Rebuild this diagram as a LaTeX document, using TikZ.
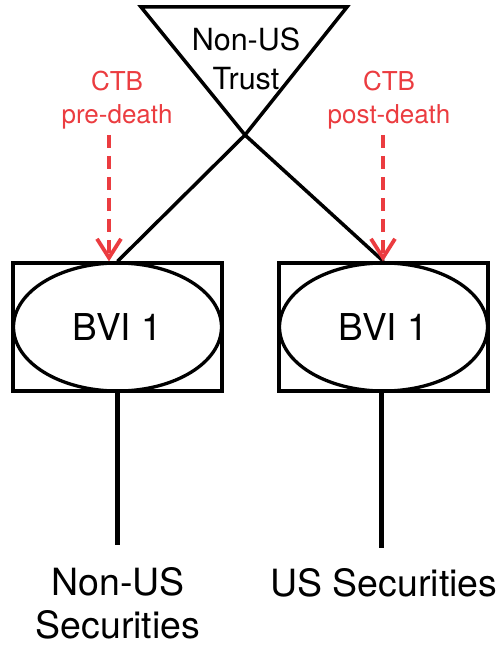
\documentclass[tikz,border=0pt]{standalone}
\usepackage{fontspec}
\setmainfont{TeX Gyre Heros}
\usetikzlibrary{shapes.geometric,arrows.meta}
\definecolor{ctbred}{RGB}{235,60,64}

\tikzset{
  holder/.style={draw, line width=3.3pt, minimum width=209pt, minimum height=128pt, inner sep=0pt},
  company/.style={draw, ellipse, line width=3.3pt, minimum width=208pt, minimum height=128pt, inner sep=0pt, font=\fontsize{37}{40}\selectfont},
  link/.style={line width=3.5pt},
  stem/.style={line width=4.8pt},
  ctb/.style={draw=ctbred, line width=3.8pt, dash pattern=on 13pt off 8pt, -{Straight Barb[length=19pt,width=24pt]}},
  ctblabel/.style={text=ctbred, align=center, inner sep=0pt, anchor=north, font=\fontsize{26}{33}\selectfont},
  asset/.style={align=center, inner sep=0pt, anchor=north, text depth=0pt, font=\fontsize{37.5}{43}\selectfont},
}

\begin{document}
\begin{tikzpicture}[x=1pt, y=-1pt]
  \useasboundingbox (0,0) rectangle (501,647);

  % trust
  \coordinate (tl) at (141,7);
  \coordinate (tr) at (347,7);
  \coordinate (apex) at (245,135);
  \draw[link, line join=miter] (tl) -- (tr) -- (apex) -- cycle;
  \node[asset, font=\fontsize{30.5}{39}\selectfont] (trust) at (246,28) {Non-US\\Trust};

  % companies
  \node[holder] (boxl) at (117.5,327) {};
  \node[company] (bvil) at (117.5,327) {BVI 1};
  \node[holder] (boxr) at (383.5,327) {};
  \node[company] (bvir) at (383.5,327) {BVI 1};

  \draw[link] (apex) -- (boxl.north);
  \draw[link] (apex) -- (boxr.north);

  % securities
  \coordinate (endl) at (117.5,545);
  \coordinate (endr) at (381.5,548);
  \draw[stem] (boxl.south) -- (endl);
  \draw[stem] (boxr.south -| endr) -- (endr);
  \node[asset] (secl) at (118,567) {Non-US\\Securities};
  \node[asset] (secr) at (384,568) {US Securities};

  % CTB
  \node[ctblabel] (prel) at (117,71) {CTB\\pre-death};
  \node[ctblabel] (postl) at (389,71) {CTB\\post-death};
  \coordinate (pre) at (109,135);
  \coordinate (post) at (383,135);
  \draw[ctb] (pre) -- (pre |- boxl.north);
  \draw[ctb] (post) -- (post |- boxr.north);
\end{tikzpicture}
\end{document}
